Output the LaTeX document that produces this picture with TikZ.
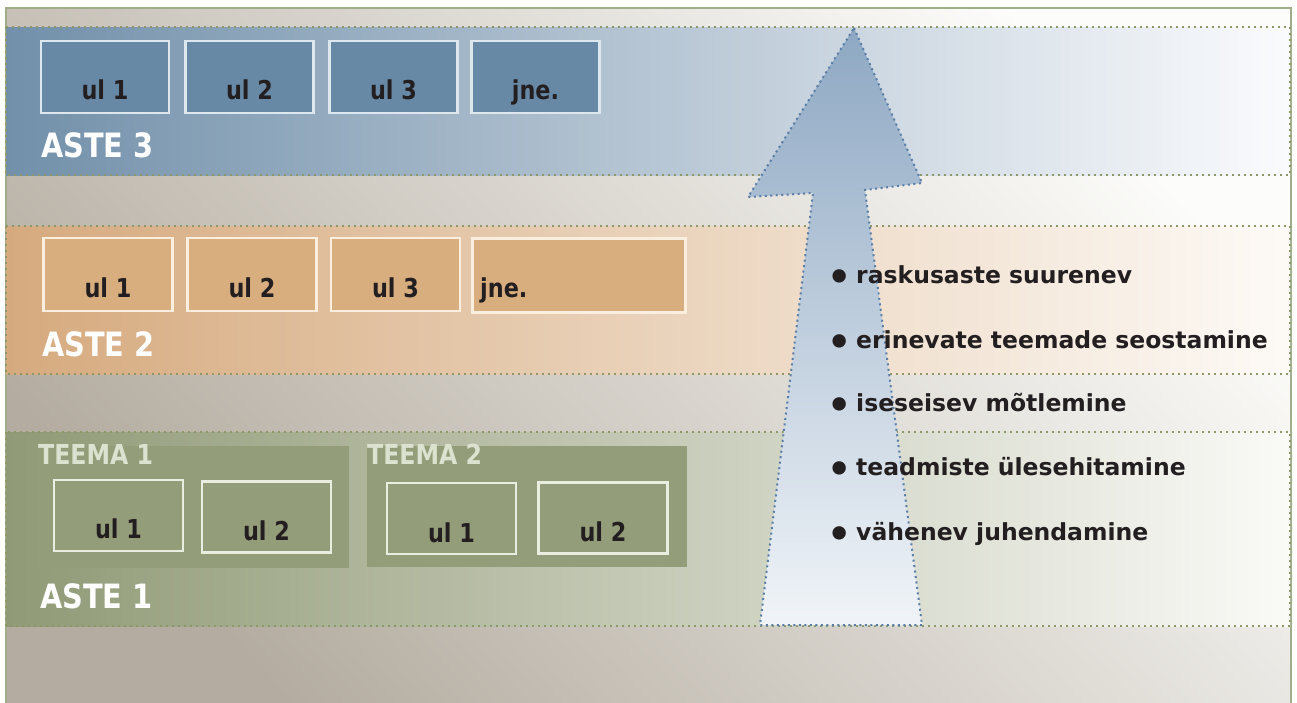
\documentclass[tikz,border=0pt]{standalone}
\usepackage{fontspec}
\setmainfont{DejaVu Sans}
\newfontfamily\lblf[FakeStretch=0.86]{DejaVu Sans}
\definecolor{bgd}{RGB}{180,172,160}
\definecolor{bgl}{RGB}{252,252,250}
\definecolor{framec}{RGB}{160,172,138}
\definecolor{dotc}{RGB}{140,152,105}
\definecolor{aIIIl}{RGB}{114,144,170}
\definecolor{aIIIr}{RGB}{250,251,253}
\definecolor{aIIIbox}{RGB}{104,137,166}
\definecolor{aIIIbd}{RGB}{222,230,238}
\definecolor{aIIl}{RGB}{214,170,126}
\definecolor{aIIr}{RGB}{253,250,246}
\definecolor{aIIbox}{RGB}{217,174,126}
\definecolor{aIIbd}{RGB}{250,238,222}
\definecolor{aIl}{RGB}{144,154,118}
\definecolor{aIr}{RGB}{250,250,247}
\definecolor{aIbox}{RGB}{148,157,122}
\definecolor{aIbd}{RGB}{234,238,224}
\definecolor{teemac}{RGB}{220,226,208}
\definecolor{arT}{RGB}{142,168,195}
\definecolor{arB}{RGB}{240,244,248}
\definecolor{ardot}{RGB}{90,126,166}
\definecolor{txt}{RGB}{35,30,32}
\newcommand{\bul}{\makebox[28pt][l]{\hspace{-1pt}\fontsize{38}{38}\selectfont\raisebox{-7.5pt}{•}}}
\begin{document}
\begin{tikzpicture}[x=1pt,y=-1pt,
  dotb/.style={draw=dotc, line width=2pt, dash pattern=on 2pt off 4pt},
  ardotb/.style={draw=ardot, line width=2pt, dash pattern=on 2pt off 3.5pt},
  boxbase/.style={draw, line width=2.4pt, inner sep=0pt, minimum width=#1},
  boxIII/.style={boxbase=128pt, fill=aIIIbox, draw=aIIIbd, minimum height=72pt},
  boxII/.style={boxbase=129pt, fill=aIIbox, draw=aIIbd, minimum height=73pt},
  boxI/.style={boxbase=129pt, fill=aIbox, draw=aIbd, minimum height=71pt},
  panel/.style={fill=aIbox, draw=none, inner sep=0pt},
  ullbl/.style={anchor=base, inner sep=0pt, text=txt, font=\lblf\bfseries\fontsize{26}{30}\selectfont},
  astelbl/.style={anchor=base west, inner sep=0pt, text=white, font=\lblf\bfseries\fontsize{33.5}{38}\selectfont},
  teemalbl/.style={anchor=base west, inner sep=0pt, text=teemac, font=\lblf\bfseries\fontsize{27.5}{31}\selectfont},
  bullet/.style={anchor=base west, inner sep=0pt, text=txt, font=\bfseries\fontsize{23.5}{28}\selectfont}
]
\useasboundingbox (0,0) rectangle (1297,702);
\fill[white] (0,0) rectangle (1297,702);
% background
\shade[top color=bgl, bottom color=bgd, shading angle=-48] (6,8) rectangle (1291,702);
\draw[framec, line width=2.2pt] (6,710) -- (6,8) -- (1291,8) -- (1291,710);

% bands
\shade[left color=aIIIl, right color=aIIIr] (6,27) rectangle (1290,175);
\draw[dotb] (6,27) rectangle (1290,175);
\shade[left color=aIIl, right color=aIIr] (6,226) rectangle (1290,374);
\draw[dotb] (6,226) rectangle (1290,374);
\shade[left color=aIl, right color=aIr] (6,432) rectangle (1290,626);
\draw[dotb] (6,432) rectangle (1290,626);

% ASTE 3 boxes
\node[boxIII] (b31) at (105,77) {};
\node[boxIII] (b32) at (249.5,77) {};
\node[boxIII] (b33) at (393.5,77) {};
\node[boxIII] (b34) at (535.5,77) {};
\node[ullbl] (t31) at (105,99) {ul 1};
\node[ullbl] (t32) at (249.5,99) {ul 2};
\node[ullbl] (t33) at (393.5,99) {ul 3};
\node[ullbl] (t34) at (535.5,99) {jne.};
\node[astelbl] (aste3) at (41,157) {ASTE 3};

% ASTE 2 boxes
\node[boxII] (b21) at (108,274.5) {};
\node[boxII] (b22) at (252,274.5) {};
\node[boxII] (b23) at (395.5,274.5) {};
\node[boxII, minimum width=213pt, minimum height=74pt] (b24) at (579,275.5) {};
\node[ullbl] (t21) at (108,297) {ul 1};
\node[ullbl] (t22) at (252,297) {ul 2};
\node[ullbl] (t23) at (395.5,297) {ul 3};
\node[ullbl, anchor=base west] (t24) at (480,297) {jne.};
\node[astelbl] (aste2) at (42,356) {ASTE 2};

% ASTE 1 panels
\node[panel, minimum width=311pt, minimum height=122pt] (p1) at (193.5,507) {};
\node[panel, minimum width=320pt, minimum height=121pt] (p2) at (527,506.5) {};
\node[teemalbl] (teema1) at (38,464) {TEEMA 1};
\node[teemalbl] (teema2) at (367,464) {TEEMA 2};
\node[boxI] (b11) at (118.5,515.5) {};
\node[boxI] (b12) at (266.5,517) {};
\node[boxI] (b13) at (451.5,518.5) {};
\node[boxI] (b14) at (603,518) {};
\node[ullbl] (t11) at (118.5,538) {ul 1};
\node[ullbl] (t12) at (266.5,540) {ul 2};
\node[ullbl] (t13) at (451.5,542) {ul 1};
\node[ullbl] (t14) at (603,541) {ul 2};
\node[astelbl] (aste1) at (40,608) {ASTE 1};

% arrow
\coordinate (tip) at (854,28);
\coordinate (hr) at (922,183);
\coordinate (sr) at (865,190);
\coordinate (br) at (922,625);
\coordinate (bl) at (760,625);
\coordinate (sl) at (813,193);
\coordinate (hl) at (748,197);
\shade[top color=arT, bottom color=arB] (tip) -- (hr) -- (sr) -- (br) -- (bl) -- (sl) -- (hl) -- cycle;
\draw[ardotb] (tip) -- (hr) -- (sr) -- (br) -- (bl) -- (sl) -- (hl) -- cycle;

% bullets
\node[bullet] (l1) at (828,283) {\bul raskusaste suurenev};
\node[bullet] (l2) at (828,348) {\bul erinevate teemade seostamine};
\node[bullet] (l3) at (828,411) {\bul iseseisev mõtlemine};
\node[bullet] (l4) at (828,475) {\bul teadmiste ülesehitamine};
\node[bullet] (l5) at (828,540) {\bul vähenev juhendamine};
\end{tikzpicture}
\end{document}
